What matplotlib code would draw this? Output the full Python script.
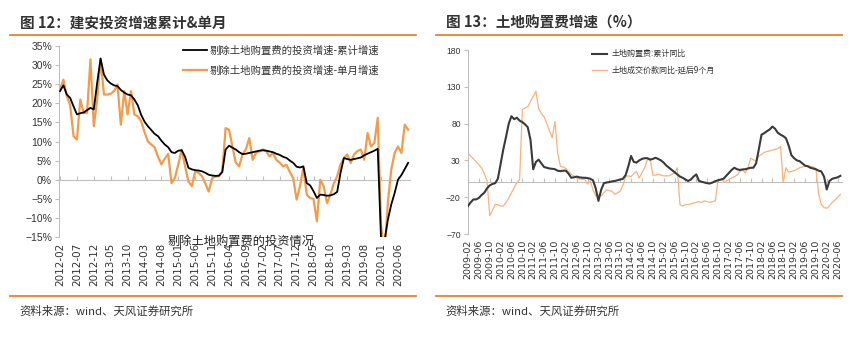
import numpy as np
import pandas as pd
import matplotlib
matplotlib.use("Agg")
import matplotlib.pyplot as plt
from matplotlib.lines import Line2D

plt.rcParams["font.family"] = ["Noto Sans CJK SC", "DejaVu Sans"]

# ---- left panel: construction investment growth (ex land purchase), %
left_start = "2012-02-01"
left_cum = [
    23.2, 24.7, 22.3, 21.4, 19.2, 17.1, 17.4, 17.6, 18.2, 18.8,
    18.4, 25.4, 31.7, 27.5, 26.0, 25.2, 24.7, 24.5, 23.5, 22.8,
    22.3, 22.1, 21.0, 19.5, 17.0, 15.2, 14.0, 13.0, 12.0, 11.4,
    10.2, 9.2, 8.5, 7.2, 7.0, 7.6, 7.7, 6.0, 3.1, 2.7,
    2.5, 2.4, 2.2, 1.8, 1.3, 1.1, 1.0, 1.05, 2.0, 7.9,
    8.9, 8.4, 7.9, 7.2, 6.7, 6.8, 7.0, 7.2, 7.4, 7.6,
    7.7, 7.6, 7.4, 7.2, 6.8, 6.5, 6.0, 5.7, 5.0, 4.4,
    3.4, 3.2, 3.5, -0.9, -1.5, -3.0, -4.8, -3.9, -4.0, -4.2,
    -4.1, -3.8, -3.2, 1.8, 5.7, 5.4, 5.2, 5.4, 5.6, 5.8,
    6.4, 6.8, 7.2, 7.6, 8.1, -16.0, -16.0, -10.5, -6.5, -3.5,
    0.0, 1.2, 2.8, 4.4,
]
left_month = [
    23.6, 26.2, 22.0, 19.5, 11.4, 10.5, 21.0, 17.5, 17.5, 31.5,
    14.0, 21.0, 31.7, 22.3, 22.3, 22.5, 23.2, 24.9, 14.4, 23.2,
    17.1, 23.2, 17.1, 16.6, 15.3, 12.5, 10.0, 9.2, 8.5, 6.0,
    4.0, 5.5, 6.8, -0.9, 0.5, 4.0, 7.9, 3.5, -0.5, -1.7,
    2.2, 1.8, 0.9, -1.0, -3.1, 0.4, 0.8, 0.9, 2.2, 13.5,
    13.1, 8.7, 4.5, 3.5, 6.6, 8.0, 10.9, 5.2, 7.0, 7.4,
    7.9, 7.5, 6.1, 7.0, 5.2, 4.5, 3.5, 3.9, 2.0, 0.4,
    -5.2, -1.7, 3.1, -3.9, -4.8, -5.0, -10.9, 0.0, -1.7, -6.1,
    -3.9, -1.0, 0.9, 4.0, 5.7, 6.6, 4.4, 6.6, 7.5, 7.9,
    5.2, 12.2, 8.7, 9.6, 16.2, -12.0, -20.0, -6.0, 2.6, 7.0,
    8.7, 7.0, 14.4, 13.1,
]
left_names = ["剔除土地购置费的投资增速-累计增速", "剔除土地购置费的投资增速-单月增速"]
left_yticks = [-15, -10, -5, 0, 5, 10, 15, 20, 25, 30, 35]

# ---- right panel: land purchase cost growth, %
right_start = "2009-02-01"
right_cum = [
    -32, -27, -23, -23, -21, -17, -14, -8, -4, -2,
    -1, 5, 25, 45, 62, 80, 90, 86, 88, 84,
    82, 79, 75, 58, 18, 28, 31, 26, 21, 20,
    19, 18.6, 18, 16, 15.4, 16, 16, 12, 6.4, 7,
    8, 7, 6.5, 6.4, 6, 5, 3, -8, -25, -10,
    -1, 0, 0.5, 1.5, 2, 3, 4, 5, 10, 22,
    36, 28, 27, 30, 32, 33, 33, 31, 32, 33.6,
    32, 30, 27, 23, 20, 17, 14, 11, 8, 6.4,
    4, 2, 4, 8, 11, 2, 1, 0, -1, -1.4,
    0, 1.8, 3, 4, 5, 9, 13, 17, 20, 18,
    17, 17.7, 18, 19, 20, 20, 26, 45, 65, 67,
    69.7, 72, 76, 73, 67.5, 65, 63, 60, 50, 37,
    33, 30, 29, 26, 23, 22, 20, 19, 18, 16,
    15, 8, -9.5, 2, 5, 6, 7, 9,
]
right_land = [
    40, 36, 32, 28, 24, 20, 12, 3, -45, -38,
    -30, -30, -32, -32, -27, -21, -14, -7, 0, 4,
    99, 101, 103, 110, 117, 124, 100, 94, 89, 80,
    70, 61, 83, 40, 22, 21, 19, 15, 11, 9,
    6, 5, 4.5, 4, -2, 1.8, -10, -18, -17, -18,
    -14, -10, -11, -12, -16, -14, -12, -4, 8, 9,
    8, 12, 15, 6, 13, 20, 31, 33, 10, 10,
    11, 10, 9, 9, 9, 11, 13, 20, -30, -32,
    -30, -30, -29, -28, -27, -26, -27, -25, -26, -27,
    -26, -25, 3, 4, 2, 2, 4, 6, 8, 10,
    15, 17, 13, 20, 33, 31, 29, 36, 38, 41,
    42, 43, 44, 45, 46, 49, 0, 20, 14, 15,
    16, 18, 20, 21, 22, 23, 22, 21, 19, -15,
    -30, -34, -35, -32, -27, -24, -20, -16,
]
right_names = ["土地购置费:累计同比", "土地成交价款同比-延后9个月"]
right_yticks = [-70, -20, 30, 80, 130, 180]

titles = ["图 12：建安投资增速累计&单月", "图 13：土地购置费增速（%）"]
source = "资料来源：wind、天风证券研究所"
note = "剔除土地购置费的投资情况"

ORANGE_RULE = "#E8822E"
GRID_GRAY = "#BFBFBF"
TEXT = "#333333"
NUM_FONT = ["Liberation Sans", "DejaVu Sans"]

W, H = 860, 338


def fx(px):
    return px / W


def fy(py):
    return 1 - py / H


def fmt_minus(v, suffix=""):
    return (f"{v}{suffix}").replace("-", "\u2212")


def style_axis(ax, zero_frac, tick_pos, tick_labels, xsize, ysize):
    for s in ["top", "right", "bottom"]:
        ax.spines[s].set_visible(False)
    ax.spines["left"].set_color(GRID_GRAY)
    ax.tick_params(axis="y", length=3, color=GRID_GRAY, labelsize=ysize,
                   labelcolor=TEXT, pad=2)
    ax.set_xticks(tick_pos)
    ax.set_xticklabels(tick_labels, rotation=90, fontsize=xsize, color=TEXT,
                       family=["DejaVu Sans"])
    ax.tick_params(axis="x", length=0, pad=4)
    for lab in ax.get_yticklabels():
        lab.set_family(NUM_FONT)
    # zero line with small upward ticks
    sec = ax.secondary_xaxis(zero_frac)
    sec.set_xticks(tick_pos)
    sec.tick_params(direction="in", length=3, color=GRID_GRAY,
                    labelbottom=False, labeltop=False)
    for sp in sec.spines.values():
        sp.set_color(GRID_GRAY)


fig = plt.figure(figsize=(8.6, 3.38), dpi=100)

# ---------------- left panel
ax1 = fig.add_axes([fx(59), fy(237), fx(410) - fx(59), fy(46) - fy(237)])
lm = pd.date_range(left_start, periods=len(left_cum), freq="MS")
xl = np.arange(len(lm))
ax1.plot(xl, left_cum, color="#000000", lw=1.3, label=left_names[0], zorder=3)
ax1.plot(xl, left_month, color="#F29B4C", lw=1.6, label=left_names[1], zorder=2)
ax1.set_xlim(-0.3, 103.55)
ax1.set_ylim(-15, 35)
ax1.set_yticks(left_yticks)
ax1.set_yticklabels([fmt_minus(v, "%") for v in left_yticks])
style_axis(ax1, 15 / 50, xl[::5], lm.strftime("%Y-%m")[::5], 7.5, 7.5)
ax1.legend(loc="upper left", bbox_to_anchor=(0.353, 1.003), frameon=False,
           fontsize=7.5, handlelength=2.3, handletextpad=0.3,
           labelspacing=0.95, borderpad=0, borderaxespad=0, labelcolor=TEXT)

# ---------------- right panel
ax2 = fig.add_axes([fx(467.7), fy(234), fx(841.7) - fx(467.7), fy(50) - fy(234)])
rm = pd.date_range(right_start, periods=len(right_cum), freq="MS")
xr = np.arange(len(rm))
ax2.plot(xr, right_cum, color="#3A3A3A", lw=1.5, label=right_names[0], zorder=3)
ax2.plot(xr, right_land, color="#F9B27C", lw=0.9, label=right_names[1], zorder=2)
ax2.set_xlim(-0.1, 137.5)
ax2.set_ylim(-70, 180)
ax2.set_yticks(right_yticks)
ax2.set_yticklabels([fmt_minus(v) for v in right_yticks])
style_axis(ax2, 70 / 250, xr[::4], rm.strftime("%Y-%m")[::4], 6.8, 6.2)
ax2.legend(loc="upper left", bbox_to_anchor=(0.332, 1.003), frameon=False,
           fontsize=5.8, handlelength=1.9, handletextpad=0.6,
           labelspacing=0.87, borderpad=0, borderaxespad=0, labelcolor=TEXT)

# ---------------- titles, rules, sources
fig.text(fx(20), fy(23), titles[0], fontsize=10.5, fontweight="bold",
         color=TEXT, va="center", ha="left")
fig.text(fx(446), fy(23), titles[1], fontsize=10.5, fontweight="bold",
         color=TEXT, va="center", ha="left")
for x0, x1 in [(10, 416), (436, 842)]:
    for yy in [35, 296]:
        fig.add_artist(Line2D([fx(x0), fx(x1)], [fy(yy), fy(yy)],
                              color=ORANGE_RULE, lw=1.3,
                              transform=fig.transFigure))
fig.text(fx(19), fy(311), source, fontsize=8.2, color=TEXT, va="center")
fig.text(fx(445), fy(311), source, fontsize=8.2, color=TEXT, va="center")
fig.text(fx(241), fy(241), note, fontsize=8.8, color="#222222",
         ha="center", va="center")

fig.savefig("out.png", dpi=100, facecolor="white")
